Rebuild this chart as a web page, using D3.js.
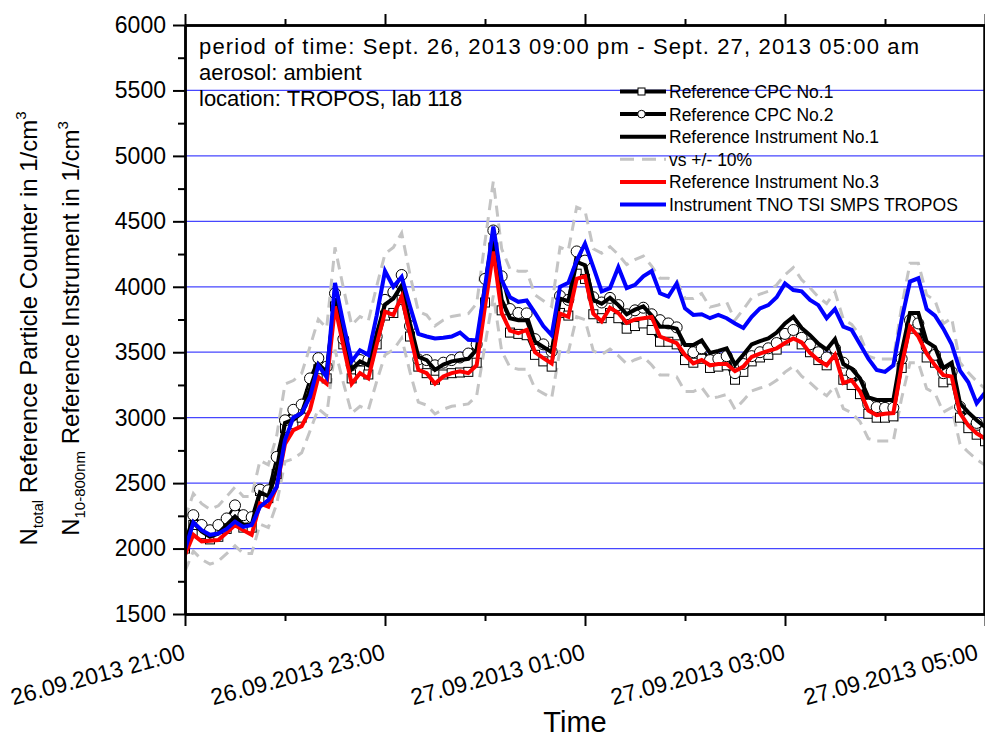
<!DOCTYPE html>
<html><head><meta charset="utf-8">
<script src="https://cdn.jsdelivr.net/npm/d3@7"></script>
<style>body{margin:0;background:#fff}svg{display:block}text{font-family:"Liberation Sans",Arial,sans-serif;fill:#000}</style>
</head><body><svg id="c" width="985" height="740"></svg>
<script>
// ---------- data ----------
const startTime = new Date(2013, 8, 26, 21, 0);
const endTime = new Date(2013, 8, 27, 5, 0);
const sampleMinutes = d3.range(0, 481, 5); // 5-minute samples from 21:00

const refCPC1 = [2000,2180,2110,2070,2090,2150,2210,2160,2160,2440,
 2385,2570,2920,2950,3000,3180,3370,3300,3850,3560,
 3300,3360,3330,3560,3780,3800,3900,3620,3390,3340,
 3290,3330,3340,3345,3350,3420,3880,4300,3820,3650,
 3640,3630,3480,3430,3390,3800,3780,4100,4060,3790,
 3760,3800,3760,3680,3700,3720,3670,3580,3580,3560,
 3440,3420,3450,3380,3390,3400,3290,3350,3430,3460,
 3480,3520,3590,3640,3560,3500,3440,3400,3480,3290,
 3250,3180,3030,3000,3000,3010,3380,3680,3680,3460,
 3420,3270,3290,3000,2920,2870,2820];
const refCPC2 = [2060,2255,2180,2140,2180,2230,2330,2255,2240,2450,
 2445,2700,2980,3060,3100,3300,3455,3390,3950,3600,
 3400,3440,3440,3620,3900,3960,4090,3700,3445,3440,
 3400,3420,3440,3460,3490,3560,4060,4430,4080,3830,
 3800,3797,3600,3560,3505,3930,3900,4270,4200,3920,
 3880,3915,3860,3790,3820,3840,3790,3745,3720,3690,
 3520,3500,3530,3440,3450,3470,3340,3410,3470,3500,
 3530,3570,3640,3670,3610,3560,3500,3460,3530,3420,
 3340,3250,3100,3080,3075,3075,3450,3745,3720,3540,
 3480,3340,3350,3083,2990,2960,2900];
const refInst1 = [2030,2200,2130,2090,2115,2180,2245,2180,2180,2430,
 2400,2600,2960,2985,3035,3220,3410,3350,3910,3630,
 3370,3430,3400,3640,3865,3910,4010,3720,3465,3440,
 3365,3405,3430,3440,3450,3520,3950,4370,3900,3760,
 3745,3745,3580,3540,3500,3910,3890,4190,4165,3900,
 3870,3915,3860,3790,3825,3850,3780,3695,3695,3680,
 3555,3555,3590,3495,3510,3530,3405,3480,3560,3585,
 3605,3650,3720,3770,3685,3630,3565,3520,3600,3410,
 3375,3300,3155,3135,3135,3135,3500,3800,3800,3580,
 3540,3380,3420,3110,3040,2980,2930];
const refInst3 = [1950,2105,2055,2060,2065,2120,2180,2140,2105,2345,
 2320,2470,2800,2905,2935,3060,3310,3260,3850,3550,
 3260,3340,3300,3560,3810,3785,3925,3640,3365,3340,
 3260,3315,3340,3355,3340,3400,3850,4270,3800,3665,
 3645,3670,3500,3455,3415,3795,3770,4060,4080,3795,
 3735,3840,3800,3725,3750,3760,3770,3620,3595,3570,
 3480,3415,3440,3400,3410,3410,3355,3390,3465,3490,
 3510,3530,3570,3605,3575,3495,3440,3400,3480,3265,
 3285,3200,3055,3020,3030,3035,3400,3695,3620,3490,
 3400,3325,3315,3035,2940,2880,2840];
const tsiSmps = [1990,2200,2140,2105,2115,2150,2205,2165,2180,2320,
 2370,2470,2830,3000,3035,3160,3400,3310,4030,3720,
 3430,3515,3480,3780,4120,4000,4075,3850,3640,3620,
 3605,3610,3620,3650,3595,3590,4000,4460,4050,3920,
 3885,3895,3800,3700,3630,4000,4030,4200,4330,4150,
 3965,3990,4150,3990,4015,4080,4120,3950,3925,4025,
 3835,3785,3790,3760,3785,3760,3720,3685,3770,3835,
 3860,3920,4025,3975,3965,3900,3860,3760,3830,3695,
 3670,3560,3450,3364,3350,3400,3750,4040,4065,3830,
 3780,3680,3560,3360,3270,3110,3190];
const bandFraction = 0.10; // "vs +/- 10%" band around Reference Instrument No.1

const yTickValues = [1500,2000,2500,3000,3500,4000,4500,5000,5500,6000];
const yMinorValues = [1750,2250,2750,3250,3750,4250,4750,5250,5750];
const gridValues = [2000,2500,3000,3500,4000,4500,5000,5500];
const xMajorHours = [0,2,4,6,8];
const xMinorHours = [1,3,5,7];
const annotationLines = ["period of time: Sept. 26, 2013 09:00 pm - Sept. 27, 2013 05:00 am","aerosol: ambient","location: TROPOS, lab 118"];
const legendLabels = ["Reference CPC No.1","Reference CPC No.2","Reference Instrument No.1","vs +/- 10%","Reference Instrument No.3","Instrument TNO TSI SMPS TROPOS"];

// ---------- layout ----------
const L = 185, R = 984, T = 25, B = 614;
const svg = d3.select("#c");
const x = d3.scaleTime().domain([startTime, endTime]).range([L, R + 1]);
const y = d3.scaleLinear().domain([1500, 6000]).range([B, T]);
const tOf = m => new Date(startTime.getTime() + m * 60000);
const hourDate = h => new Date(startTime.getTime() + h * 3600000);

svg.append("defs").append("clipPath").attr("id","clip")
  .append("rect").attr("x", L).attr("y", T).attr("width", R - L).attr("height", B - T);

// grid
svg.append("g").selectAll("line").data(gridValues).join("line")
  .attr("x1", L).attr("x2", R).attr("y1", d => y(d)).attr("y2", d => y(d))
  .attr("stroke", "#4646ff").attr("stroke-width", 1.3);

const plot = svg.append("g").attr("clip-path", "url(#clip)");
const line = vals => d3.line().x((d, i) => x(tOf(sampleMinutes[i]))).y(d => y(d))(vals);

// +/- 10% band
const upper = refInst1.map(v => v * (1 + bandFraction));
const lower = refInst1.map(v => v * (1 - bandFraction));
[upper, lower].forEach(arr => plot.append("path").attr("d", line(arr))
  .attr("fill", "none").attr("stroke", "#c4c4c4").attr("stroke-width", 3)
  .attr("stroke-dasharray", "11,7"));

// CPC 1 (squares)
plot.append("path").attr("d", line(refCPC1)).attr("fill","none").attr("stroke","#000").attr("stroke-width",2.5);
plot.append("g").selectAll("rect").data(refCPC1).join("rect")
  .attr("x", (d,i) => x(tOf(sampleMinutes[i])) - 4.5).attr("y", d => y(d) - 4.5)
  .attr("width", 9).attr("height", 9).attr("fill","#fff").attr("stroke","#000").attr("stroke-width",1);
// CPC 2 (circles)
plot.append("path").attr("d", line(refCPC2)).attr("fill","none").attr("stroke","#000").attr("stroke-width",2.5);
plot.append("g").selectAll("circle").data(refCPC2).join("circle")
  .attr("cx", (d,i) => x(tOf(sampleMinutes[i]))).attr("cy", d => y(d)).attr("r", 5.5)
  .attr("fill","#fff").attr("stroke","#000").attr("stroke-width",1);
// Reference instrument 1
plot.append("path").attr("d", line(refInst1)).attr("fill","none").attr("stroke","#000").attr("stroke-width",4);
// Reference instrument 3
plot.append("path").attr("d", line(refInst3)).attr("fill","none").attr("stroke","#ff0000").attr("stroke-width",4);
// TSI SMPS
plot.append("path").attr("d", line(tsiSmps)).attr("fill","none").attr("stroke","#0000ff").attr("stroke-width",4);

// ---------- axes ----------
function styleAxis(g){ g.select(".domain").attr("stroke-width", 2.5); g.selectAll(".tick line").attr("stroke-width", 2); g.selectAll("text").remove(); }
const majorDates = xMajorHours.map(hourDate), minorDates = xMinorHours.map(hourDate);
svg.append("g").attr("transform",`translate(0,${B})`).call(d3.axisBottom(x).tickValues(majorDates).tickSize(12).tickSizeOuter(0)).call(styleAxis);
svg.append("g").attr("transform",`translate(0,${B})`).call(d3.axisBottom(x).tickValues(minorDates).tickSize(7).tickSizeOuter(0)).call(styleAxis);
svg.append("g").attr("transform",`translate(0,${T})`).call(d3.axisTop(x).tickValues(majorDates).tickSize(11).tickSizeOuter(0)).call(styleAxis);
svg.append("g").attr("transform",`translate(0,${T})`).call(d3.axisTop(x).tickValues(minorDates).tickSize(6).tickSizeOuter(0)).call(styleAxis);
const yAx = svg.append("g").attr("transform",`translate(${L},0)`)
  .call(d3.axisLeft(y).tickValues(yTickValues).tickFormat(d3.format("d")).tickSize(12).tickPadding(7).tickSizeOuter(0));
yAx.select(".domain").attr("stroke-width", 2.5);
yAx.selectAll(".tick line").attr("stroke-width", 2);
yAx.selectAll("text").attr("font-size", 23).attr("font-family", '"Liberation Sans",Arial,sans-serif').attr("fill","#000");
svg.append("g").attr("transform",`translate(${L},0)`).call(d3.axisLeft(y).tickValues(yMinorValues).tickSize(7).tickSizeOuter(0)).call(styleAxis);
svg.append("g").attr("transform",`translate(${R},0)`).call(d3.axisRight(y).tickValues(yTickValues).tickSize(0).tickSizeOuter(0)).call(styleAxis);

// x tick labels (rotated)
const fmt = d3.timeFormat("%d.%m.%Y %H:%M");
svg.append("g").selectAll("text").data(majorDates).join("text")
  .attr("transform", d => `translate(${Math.min(x(d), 978) - 3},643) rotate(-15)`)
  .attr("text-anchor","end").attr("dy","0.72em").attr("font-size",23).text(d => fmt(d));

// axis titles
svg.append("text").attr("x", 575).attr("y", 732).attr("text-anchor","middle").attr("font-size",29).text("Time");
function yTitle(xpos, sub, main){
  const t = svg.append("text").attr("transform",`translate(${xpos},${(T+B)/2 + 9}) rotate(-90)`)
    .attr("text-anchor","middle").attr("font-size",24);
  t.append("tspan").text("N");
  t.append("tspan").attr("font-size",15).attr("dy",6).text(sub);
  t.append("tspan").attr("dy",-6).text(" " + main + " in 1/cm");
  t.append("tspan").attr("font-size",15).attr("dy",-11).text("3");
}
yTitle(37, "total", "Reference Particle Counter");
yTitle(79, "10-800nm", "Reference Instrument");

// annotation
svg.append("g").selectAll("text").data(annotationLines).join("text")
  .attr("x", 199).attr("y", (d,i) => 54 + i*26).attr("font-size", 22)
  .attr("textLength", (d,i) => i === 0 ? 720 : null)
  .attr("lengthAdjust", "spacing").text(d => d);

// legend
const legendStyles = [
  {stroke:"#000", w:4, marker:"square"},
  {stroke:"#000", w:4, marker:"circle"},
  {stroke:"#000", w:4},
  {stroke:"#c4c4c4", w:3, dash:"14,8"},
  {stroke:"#ff0000", w:4},
  {stroke:"#0000ff", w:4}
];
const lg = svg.append("g");
legendLabels.forEach((lab, i) => {
  const cy = 91.5 + i * 22.6;
  const s = legendStyles[i];
  lg.append("line").attr("x1",620).attr("x2",666).attr("y1",cy).attr("y2",cy)
    .attr("stroke",s.stroke).attr("stroke-width",s.w).attr("stroke-dasharray", s.dash || null);
  if (s.marker === "square") lg.append("rect").attr("x",638).attr("y",cy-3.5).attr("width",7).attr("height",7).attr("fill","#fff").attr("stroke","#000");
  if (s.marker === "circle") lg.append("circle").attr("cx",641.5).attr("cy",cy).attr("r",3.8).attr("fill","#fff").attr("stroke","#000");
  lg.append("text").attr("x",669).attr("y",cy+6.5).attr("font-size",17.5).text(lab);
});
</script></body></html>
